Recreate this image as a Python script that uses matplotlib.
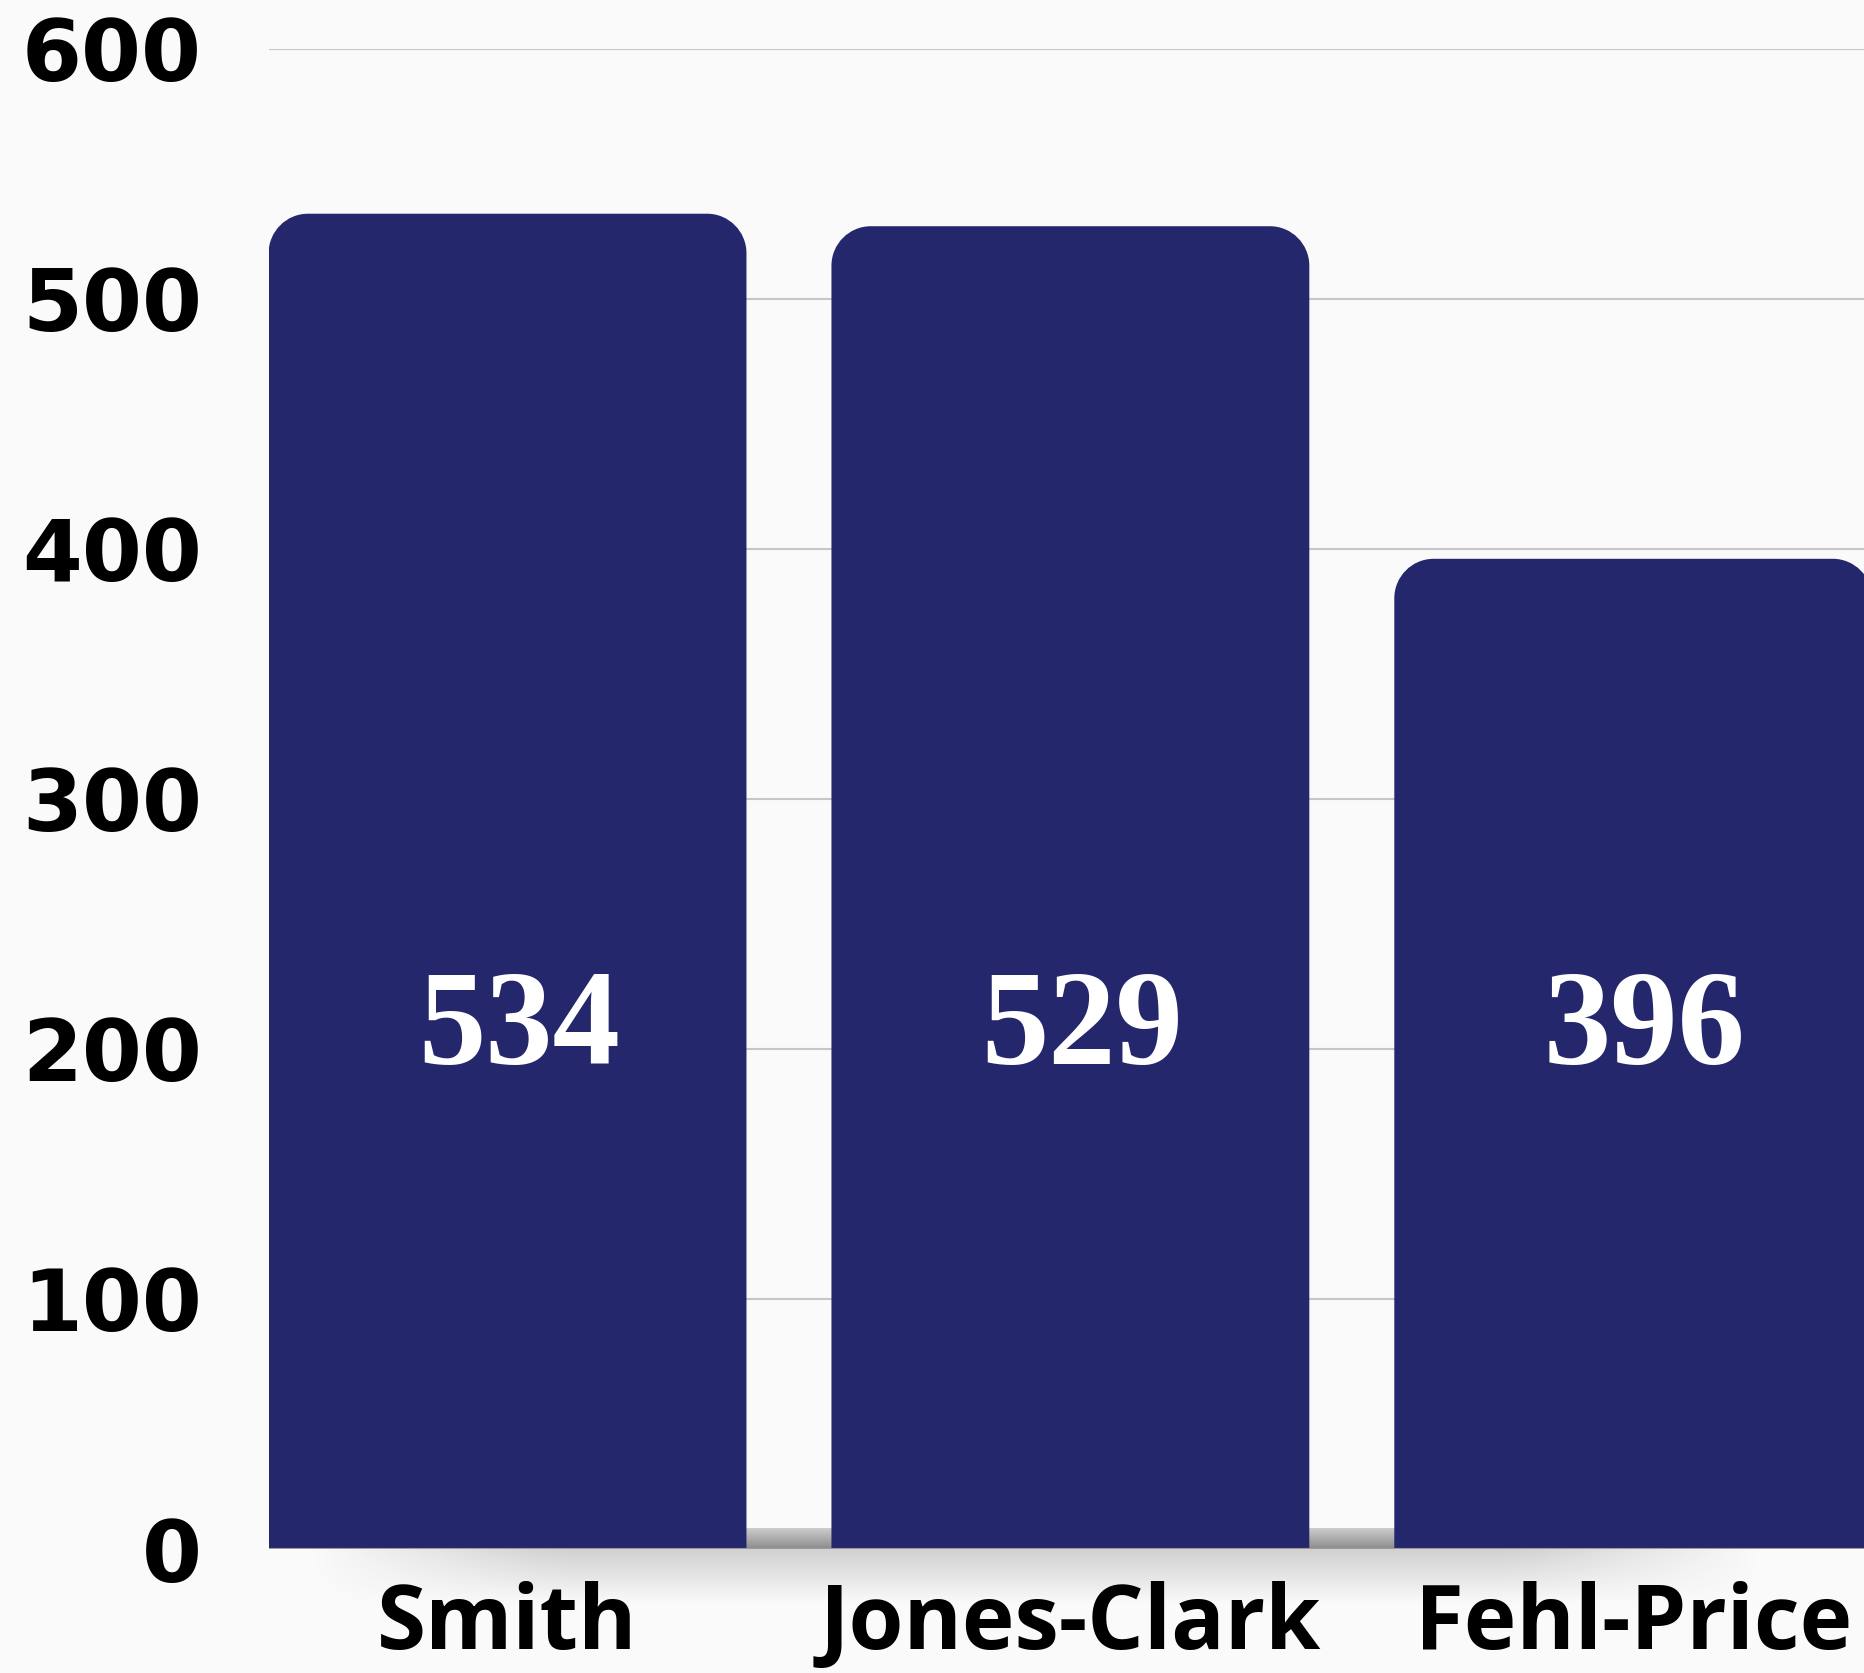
import numpy as np
import matplotlib.pyplot as plt
from matplotlib.path import Path
from matplotlib.patches import PathPatch

# chart data
names = ["Smith", "Jones-Clark", "Fehl-Price"]
votes = [534, 529, 396]
yticks = [0, 100, 200, 300, 400, 500, 600]

BAR_COLOR = '#24276B'
BG = '#fafafa'


def top_rounded(x0, w, h, rx, ry):
    # bar outline with the two top corners rounded (quarter ellipses)
    k = 0.5523
    x1 = x0 + w
    verts = [(x0, 0), (x0, h - ry),
             (x0, h - ry + k * ry), (x0 + rx - k * rx, h), (x0 + rx, h),
             (x1 - rx, h),
             (x1 - rx + k * rx, h), (x1, h - ry + k * ry), (x1, h - ry),
             (x1, 0), (x0, 0)]
    codes = [Path.MOVETO, Path.LINETO,
             Path.CURVE4, Path.CURVE4, Path.CURVE4,
             Path.LINETO,
             Path.CURVE4, Path.CURVE4, Path.CURVE4,
             Path.LINETO, Path.CLOSEPOLY]
    return Path(verts, codes)


fig = plt.figure(figsize=(18.64, 16.73), dpi=100, facecolor=BG)
ax = fig.add_axes([0.1441, 0.0741, 0.8559, 0.8968])
ax.set_facecolor('none')

x = np.arange(len(names))
width = 0.849

# invisible bars give the geometry, rounded patches are drawn on top
bars = ax.bar(x, votes, width=width, color='none', zorder=1)
rx, ry = 0.07, 15.8
for b in bars:
    ax.add_patch(PathPatch(top_rounded(b.get_x(), b.get_width(), b.get_height(), rx, ry),
                           fc=BAR_COLOR, ec='none', zorder=3))

# value labels inside the bars
for xi, v in zip(x, votes):
    ax.text(xi + 0.02, 207, str(v), ha='center', va='center', color='white',
            fontsize=97, family='Liberation Serif', fontweight='bold', zorder=4)

# grey floor strip showing in the gaps between bars
band = np.linspace(0.80, 0.55, 20).reshape(-1, 1)
ax.imshow(np.dstack([band, band, band]), extent=(-width / 2, 2.41, 0, 8),
          aspect='auto', zorder=2, interpolation='bilinear')

# soft shadow below the baseline
fade = np.zeros((30, 40, 4))
fade[..., :3] = 0.55
vert = np.linspace(0.38, 0.0, 30).reshape(-1, 1)
horiz = np.clip(np.minimum(np.linspace(0, 1, 40), np.linspace(1, 0, 40)) * 6, 0, 1)
fade[..., 3] = vert * horiz
sh = ax.imshow(fade, extent=(-0.378, 2.255, -22, 0), aspect='auto',
               zorder=0.5, interpolation='bilinear')
sh.set_clip_on(False)
ax.set_ylim(0, 600)
ax.set_xlim(-width / 2, 2.41)

ax.axhline(0, color='#9a9a9a', lw=1.5, zorder=3.5)

ax.set_yticks(yticks)
ax.set_yticklabels([str(t) for t in yticks], fontsize=62,
                   family='DejaVu Sans', fontweight='bold')
ax.set_xticks(x)
ax.set_xticklabels(names, fontsize=64, family='Open Sans', fontweight='bold')
ax.tick_params(axis='y', length=0, pad=48)
ax.tick_params(axis='x', length=0, pad=23)

ax.yaxis.grid(True, color='#c6c6c6', lw=1.5)
ax.set_axisbelow(True)
for s in ax.spines.values():
    s.set_visible(False)

fig.savefig('out.png', dpi=100, facecolor=BG)
